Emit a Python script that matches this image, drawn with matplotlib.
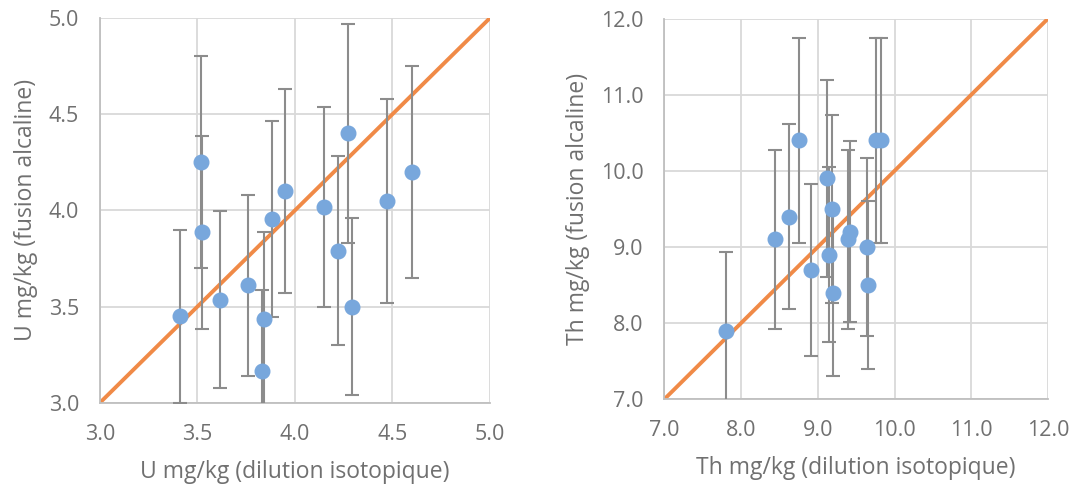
import matplotlib
matplotlib.use("Agg")
import matplotlib.pyplot as plt

# ---- data: U (left panel) ----
u_dilution = [3.41, 3.52, 3.525, 3.615, 3.76, 3.84, 3.83, 3.88, 3.95, 4.15, 4.22, 4.27, 4.29, 4.47, 4.60]
u_fusion = [3.45, 4.25, 3.885, 3.535, 3.61, 3.435, 3.165, 3.957, 4.10, 4.017, 3.79, 4.40, 3.50, 4.05, 4.20]
u_err = [0.45, 0.55, 0.50, 0.46, 0.47, 0.455, 0.42, 0.51, 0.53, 0.52, 0.49, 0.57, 0.46, 0.53, 0.55]

# ---- data: Th (right panel) ----
th_dilution = [7.805, 8.44, 8.62, 8.76, 8.91, 9.12, 9.18, 9.15, 9.195, 9.39, 9.42, 9.64, 9.66, 9.76, 9.82]
th_fusion = [7.90, 9.10, 9.40, 10.40, 8.70, 9.90, 9.50, 8.90, 8.40, 9.10, 9.20, 9.00, 8.50, 10.40, 10.40]
th_err = [1.03, 1.18, 1.22, 1.35, 1.13, 1.29, 1.23, 1.15, 1.10, 1.18, 1.19, 1.17, 1.10, 1.35, 1.35]

# 1:1 reference lines
u_line = [3.0, 5.0]
th_line = [7.0, 12.0]

u_ticks = [3.0, 3.5, 4.0, 4.5, 5.0]
th_ticks = [7.0, 8.0, 9.0, 10.0, 11.0, 12.0]

u_xlabel = "U mg/kg (dilution isotopique)"
u_ylabel = "U mg/kg (fusion alcaline)"
th_xlabel = "Th mg/kg (dilution isotopique)"
th_ylabel = "Th mg/kg (fusion alcaline)"

plt.rcParams['font.family'] = ['Open Sans', 'DejaVu Sans']

BLUE = "#78A7DC"
ORANGE = "#F08A47"
GREY = "#8C8C8C"
GRID = "#D9D9D9"
TEXT = "#707070"

fig = plt.figure(figsize=(10.74, 4.88), dpi=100)
ax1 = fig.add_axes([0.0931, 0.1748, 0.3631, 0.7883])
ax2 = fig.add_axes([0.6185, 0.1818, 0.3573, 0.7801])


def style(ax, x, y, err, line, ticks, xl, yl):
    ax.plot(line, line, color=ORANGE, lw=2.8, zorder=2, solid_capstyle='butt')
    ax.errorbar(x, y, yerr=err, fmt='o', color=BLUE, markersize=10.5,
                ecolor=GREY, elinewidth=1.5, capsize=4.8, capthick=1.5, zorder=3)
    ax.set_xlim(ticks[0], ticks[-1])
    ax.set_ylim(ticks[0], ticks[-1])
    ax.set_xticks(ticks)
    ax.set_yticks(ticks)
    ax.set_xticklabels([f"{t:.1f}" for t in ticks])
    ax.set_yticklabels([f"{t:.1f}" for t in ticks])
    ax.grid(True, color=GRID, lw=1.3, zorder=0)
    ax.set_axisbelow(True)
    for s in ax.spines.values():
        s.set_visible(False)
    for side in ('left', 'bottom'):
        ax.spines[side].set_visible(True)
        ax.spines[side].set_color("#BFBFBF")
        ax.spines[side].set_linewidth(1.3)
    ax.tick_params(length=0, labelsize=15.5, labelcolor=TEXT, pad=15)
    ax.set_xlabel(xl, fontsize=16.5, color=TEXT, labelpad=11)
    ax.set_ylabel(yl, fontsize=16.5, color=TEXT, labelpad=8)
    ax.patch.set_visible(False)


style(ax1, u_dilution, u_fusion, u_err, u_line, u_ticks, u_xlabel, u_ylabel)
style(ax2, th_dilution, th_fusion, th_err, th_line, th_ticks, th_xlabel, th_ylabel)

fig.savefig("out.png", dpi=100, facecolor="white")
